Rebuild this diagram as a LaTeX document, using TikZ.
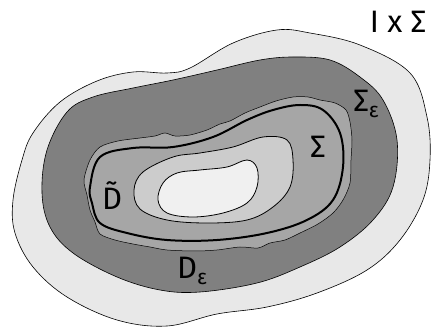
\documentclass[tikz,border=0pt]{standalone}
\usepackage{fontspec}
\setmainfont{Fira Sans}
\usepackage{xcolor}

\definecolor{outerband}{gray}{0.91}
\definecolor{darkband}{gray}{0.50}
\definecolor{midband}{gray}{0.65}
\definecolor{lightband}{gray}{0.80}
\definecolor{innerband}{gray}{0.94}

\newcommand{\lbl}{\fontsize{31}{33}\selectfont}
\newcommand{\sub}[1]{\raisebox{-0.35ex}{\fontsize{21}{22}\selectfont #1}}

\begin{document}
\begin{tikzpicture}[x=1pt,y=-1pt]
  \useasboundingbox (0,0) rectangle (437,331);
  % outer set I x Sigma
  \filldraw[fill=outerband,draw=black,line width=0.6pt] plot[smooth cycle,tension=0.6] coordinates {
    (13,200) (22,160) (33,133) (60,102) (97,81) (133,72) (167,73) (190,68)
    (233,43) (277,30) (310,33) (360,45) (410,73) (427,117) (430,160)
    (423,200) (400,240) (367,270) (317,293) (267,307) (217,314) (167,326)
    (117,320) (67,297) (33,267) (15,233)};
  % D_eps
  \filldraw[fill=darkband,draw=black,line width=0.6pt] plot[smooth cycle,tension=0.6] coordinates {
    (47,150) (67,112) (93,97) (133,88) (173,80) (217,70) (260,60) (293,57)
    (330,60) (360,77) (383,100) (397,140) (393,187) (373,220) (340,247)
    (300,267) (257,283) (200,292) (160,290) (117,277) (73,253) (50,227)
    (42,193)};
  % Sigma_eps (wiggly)
  \filldraw[fill=midband,draw=black,line width=0.5pt] plot[smooth cycle,tension=0.5] coordinates {
    (84,180) (90,160) (100,147) (118,141) (140,138) (155,136) (165,133)
    (175,136) (190,135) (207,130) (220,124) (230,121) (245,113) (260,107)
    (276,101) (293,97) (308,97) (320,100) (335,103) (346,110) (350,122)
    (352,140) (351,160) (350,183) (343,200) (333,213) (318,224) (300,233)
    (285,240) (270,243) (258,248) (240,247) (217,250) (195,251) (167,250)
    (150,247) (133,244) (115,240) (100,234) (95,222) (90,210) (87,195)};
  % Sigma
  \draw[black,line width=2pt] plot[smooth cycle,tension=0.6] coordinates {
    (90,187) (100,157) (133,148) (173,147) (213,137) (247,120) (273,110)
    (300,105) (323,110) (340,133) (343,167) (333,200) (307,220) (267,233)
    (217,240) (167,240) (127,233) (100,223) (92,203)};
  % middle set
  \filldraw[fill=lightband,draw=black,line width=0.8pt] plot[smooth cycle,tension=0.6] coordinates {
    (134,190) (143,172) (173,157) (200,153) (233,147) (263,137) (287,140)
    (293,160) (290,187) (273,207) (247,220) (207,223) (167,220) (140,209)};
  % inner set
  \filldraw[fill=innerband,draw=black,line width=0.8pt] plot[smooth cycle,tension=0.6] coordinates {
    (158,200) (163,183) (177,173) (200,170) (227,167) (247,160) (257,168)
    (257,187) (247,203) (223,213) (193,217) (167,213)};
  % labels
  \node (IxS) at (398,22) {\lbl I x Σ};
  \node (Seps) at (366,104) {\lbl Σ\sub{ε}};
  \node (S) at (318,147) {\lbl Σ};
  \node (Dt) at (112,196) {\lbl \~{D}};
  \node (Deps) at (192,271) {\lbl D\sub{ε}};
\end{tikzpicture}
\end{document}
